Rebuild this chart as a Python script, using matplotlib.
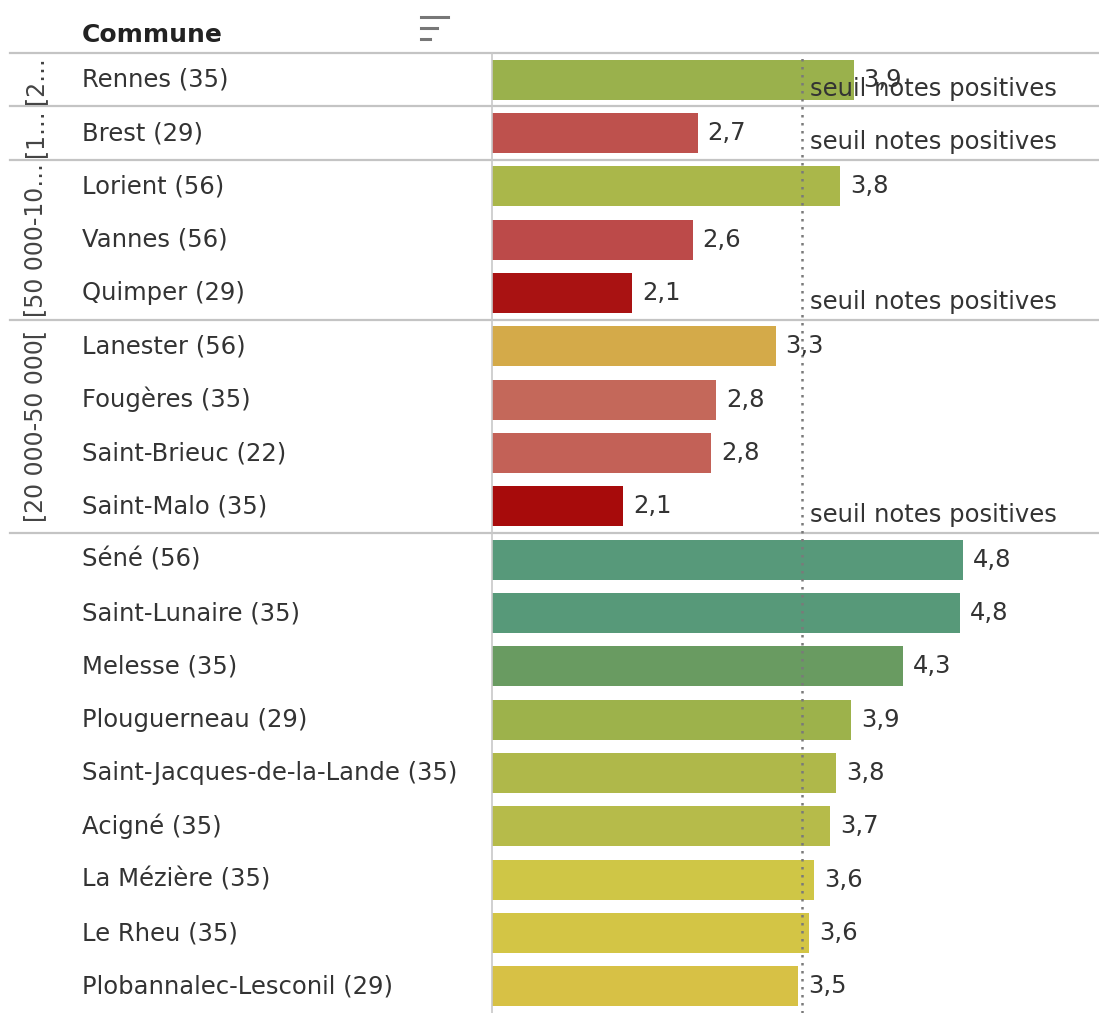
import numpy as np
import matplotlib.pyplot as plt
from matplotlib.colors import LinearSegmentedColormap, Normalize
from matplotlib.lines import Line2D
from matplotlib.transforms import blended_transform_factory

plt.rcParams['font.family'] = ['DejaVu Sans']

communes = ['Rennes (35)', 'Brest (29)', 'Lorient (56)', 'Vannes (56)', 'Quimper (29)',
            'Lanester (56)', 'Fougères (35)', 'Saint-Brieuc (22)', 'Saint-Malo (35)',
            'Séné (56)', 'Saint-Lunaire (35)', 'Melesse (35)', 'Plouguerneau (29)',
            'Saint-Jacques-de-la-Lande (35)', 'Acigné (35)', 'La Mézière (35)',
            'Le Rheu (35)', 'Plobannalec-Lesconil (29)']
notes = [3.92, 2.66, 3.81, 2.62, 2.13,
         3.29, 2.81, 2.77, 2.06,
         4.80, 4.78, 4.32, 3.90, 3.78, 3.73, 3.60, 3.56, 3.47]
group_sizes = [1, 1, 3, 4, 9]
group_labels = ['[2…', '[1…', '[50 000-10…', '[20 000-50 000[', '']
seuil = 3.5
seuil_label = 'seuil notes positives'

# red -> yellow -> green scale, keyed on the note
lo, hi = 2.0, 4.8
nodes = [(2.0, '#a50505'), (2.6, '#bb4848'), (2.8, '#c4665a'), (3.3, '#d4ac48'),
         (3.5, '#d8c444'), (3.6, '#d0c646'), (3.75, '#b3ba4a'), (3.9, '#9db24b'),
         (4.3, '#6a9b60'), (4.8, '#57997a')]
cmap = LinearSegmentedColormap.from_list(
    'notes', [((v - lo) / (hi - lo), c) for v, c in nodes])
norm = Normalize(lo, hi)

W, H = 1099, 1013
fig = plt.figure(figsize=(W / 100, H / 100), dpi=100)
ax = fig.add_axes([492 / W, 0, 1 - 492 / W, 1 - 53 / H])

y = np.arange(len(communes))
ax.barh(y, notes, height=0.75, color=cmap(norm(np.array(notes))))
ax.set_xlim(1, 5.9)
ax.set_ylim(len(communes) - 0.5, -0.5)
ax.set_xticks([])
ax.set_yticks([])
for side in ['top', 'right', 'bottom']:
    ax.spines[side].set_visible(False)
ax.spines['left'].set_color('#c8c8c8')
ax.spines['left'].set_linewidth(1.2)

ax.axvline(seuil, color='#7a7a7a', ls=(0, (1.0, 2.2)), lw=1.8, zorder=3)

FS = 17.5
TXT = '#333333'
lab_tr = blended_transform_factory(fig.transFigure, ax.transData)

for i, (name, v) in enumerate(zip(communes, notes)):
    ax.text(82 / W, i, name, transform=lab_tr, va='center', ha='left',
            fontsize=FS, color=TXT)
    ax.text(v + 0.08, i, f'{v:.1f}'.replace('.', ','), va='center', ha='left',
            fontsize=FS, color=TXT)

# group separators and labels
start = 0
bounds = [-0.5]
for size, glab in zip(group_sizes, group_labels):
    end = start + size
    if glab:
        ax.text(35 / W, (start + end - 1) / 2, glab, transform=lab_tr,
                rotation=90, va='center', ha='center', fontsize=FS - 0.5, color='#444444')
        ax.text(seuil + 0.07, end - 1 + 0.17, seuil_label, va='center', ha='left',
                fontsize=FS, color=TXT)
    bounds.append(end - 0.5)
    start = end

for b in bounds[:-1]:
    ax.plot([10 / W, 1], [b, b], transform=lab_tr, color='#c4c4c4', lw=1.6,
            clip_on=False)

# header
fig.text(82 / W, 1 - 35 / H, 'Commune', fontsize=18, weight='bold',
         va='center', ha='left', color='#222222')
for yy, x1 in [(17, 448), (28, 437), (39, 430)]:
    fig.add_artist(Line2D([421 / W, x1 / W], [1 - yy / H, 1 - yy / H],
                          transform=fig.transFigure, color='#777777', lw=2.2))

fig.savefig('out.png', dpi=100)
